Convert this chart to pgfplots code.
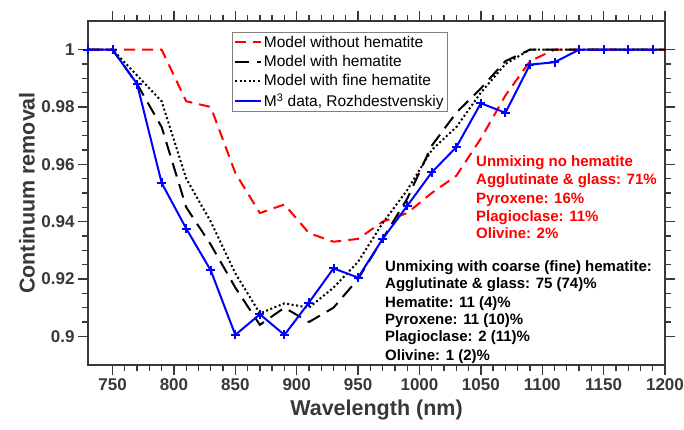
\documentclass[border=0pt]{standalone}
\usepackage{fontspec}
\setmainfont{Liberation Sans}
\usepackage{pgfplots}
\pgfplotsset{compat=1.18}
\definecolor{axgray}{rgb}{0.22,0.22,0.22}
\begin{document}
\begin{tikzpicture}
\begin{axis}[
  scale only axis,
  width=577pt, height=344pt,
  xmin=730, xmax=1200, ymin=0.89, ymax=1.01,
  xtick={750,800,...,1200},
  ytick={0.9,0.92,0.94,0.96,0.98,1},
  yticklabels={0.9,0.92,0.94,0.96,0.98,1},
  minor x tick num=4, minor y tick num=3,
  tick align=outside,
  major tick length=10pt, minor tick length=6pt,
  axis line style={axgray, line width=1.3pt},
  every tick/.style={axgray, line width=1.3pt},
  /pgf/number format/assume math mode=true,
  /pgf/number format/1000 sep={},
  tick label style={font=\bfseries\fontsize{17}{17}\selectfont, text=axgray},
  xlabel={Wavelength (nm)}, ylabel={Continuum removal},
  every axis x label/.style={at={(axis description cs:0.5,-0.132)}, anchor=center, font=\bfseries\fontsize{21.5}{21.5}\selectfont, text=axgray},
  every axis y label/.style={at={(axis description cs:-0.106,0.5)}, rotate=90, anchor=center, font=\bfseries\fontsize{21.5}{21.5}\selectfont, text=axgray},
  legend style={at={(0.2496,0.968)}, anchor=north west, draw=gray, line width=0.8pt, fill=white,
    font=\fontsize{15.5}{15.5}\selectfont, inner sep=2pt, row sep=3.5pt,
    nodes={inner sep=1.5pt}},
  legend cell align=left,
  legend image code/.code={\draw[#1] (0pt,0pt) -- (26pt,0pt);},
]
\addplot[red, line width=2pt, dash pattern=on 11pt off 7pt] coordinates {
(730,1) (750,1) (770,1) (790,1) (810,0.982) (830,0.980) (850,0.957) (870,0.943)
(890,0.946) (910,0.936) (930,0.933) (950,0.934) (970,0.940) (990,0.943) (1010,0.950)
(1030,0.956) (1050,0.969) (1070,0.984) (1090,0.996) (1110,1) (1130,1) (1150,1)
(1170,1) (1190,1) (1200,1)};
\addlegendentry{Model without hematite}
\addplot[black, line width=2pt, dash pattern=on 14pt off 8pt] coordinates {
(730,1) (750,1) (770,0.988) (790,0.973) (810,0.945) (830,0.932) (850,0.917) (870,0.904)
(890,0.910) (910,0.905) (930,0.910) (950,0.920) (970,0.934) (990,0.948) (1010,0.9665)
(1030,0.978) (1050,0.9865) (1070,0.996) (1090,1) (1110,1) (1130,1) (1150,1)
(1170,1) (1190,1) (1200,1)};
\addlegendentry{Model with hematite}
\addplot[black, line width=2pt, dash pattern=on 2pt off 2.5pt] coordinates {
(730,1) (750,1) (770,0.991) (790,0.982) (810,0.955) (830,0.940) (850,0.922) (870,0.908)
(890,0.9115) (910,0.910) (930,0.917) (950,0.926) (970,0.9395) (990,0.951) (1010,0.965)
(1030,0.973) (1050,0.985) (1070,0.995) (1090,1) (1110,1) (1130,1) (1150,1)
(1170,1) (1190,1) (1200,1)};
\addlegendentry{Model with fine hematite}
\addplot[blue, line width=2pt, mark=+, mark size=4.5pt, mark options={line width=2pt}] coordinates {
(730,1) (750,1) (770,0.988) (790,0.9535) (810,0.9376) (830,0.923) (850,0.9005) (870,0.9077)
(890,0.9005) (910,0.9118) (930,0.9237) (950,0.9205) (970,0.934) (990,0.9455) (1010,0.9572)
(1030,0.966) (1050,0.9813) (1070,0.978) (1090,0.9948) (1110,0.9956) (1130,1) (1150,1)
(1170,1) (1190,1)};
\addlegendentry{M\textsuperscript{3} data, Rozhdestvenskiy}
\begin{scope}[every node/.style={anchor=base west, inner sep=0pt, font=\bfseries\fontsize{15}{15}\selectfont, text=red}]
\node at (rel axis cs:0.6724,0.5756) {Unmixing no hematite};
\node at (rel axis cs:0.6724,0.5233) {Agglutinate \& glass: 71\%};
\node at (rel axis cs:0.6724,0.4709) {Pyroxene: 16\%};
\node at (rel axis cs:0.6724,0.4186) {Plagioclase: 11\%};
\node at (rel axis cs:0.6724,0.3677) {Olivine: 2\%};
\end{scope}
\begin{scope}[every node/.style={anchor=base west, inner sep=0pt, font=\bfseries\fontsize{15}{15}\selectfont, text=black}]
\node at (rel axis cs:0.5147,0.2724) {Unmixing with coarse (fine) hematite:};
\node at (rel axis cs:0.5147,0.2221) {Agglutinate \& glass: 75 (74)\%};
\node at (rel axis cs:0.5147,0.1686) {Hematite: 11 (4)\%};
\node at (rel axis cs:0.5147,0.1174) {Pyroxene: 11 (10)\%};
\node at (rel axis cs:0.5147,0.0669) {Plagioclase: 2 (11)\%};
\node at (rel axis cs:0.5147,0.0137) {Olivine: 1 (2)\%};
\end{scope}
\end{axis}
\pgfresetboundingbox
\useasboundingbox (-88pt,-64pt) rectangle (596pt,365pt);
\end{tikzpicture}
\end{document}
